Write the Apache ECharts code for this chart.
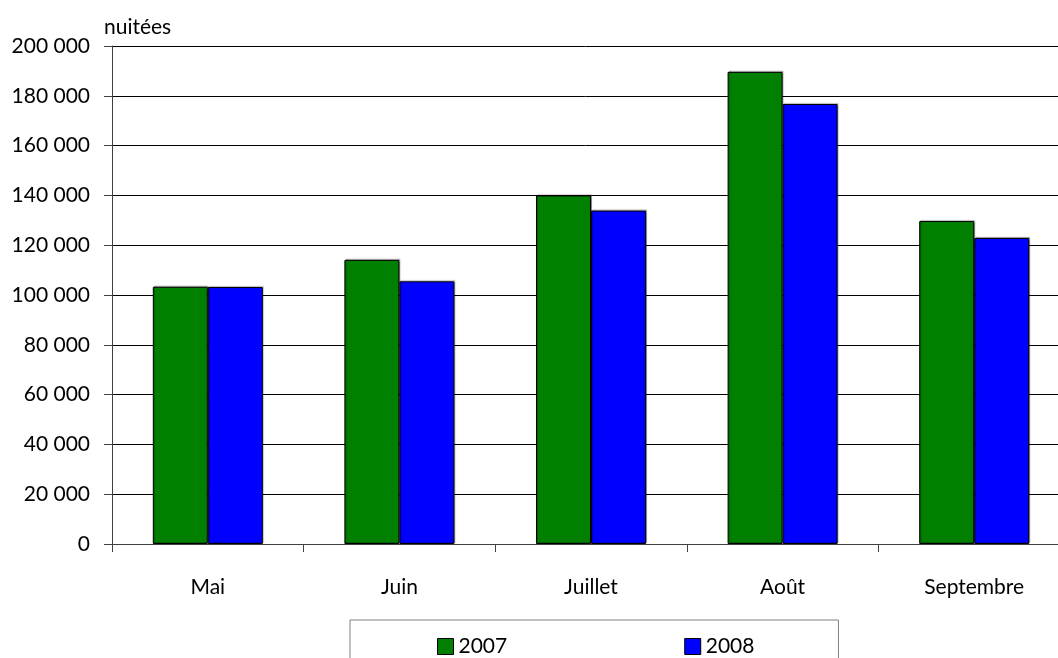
<!DOCTYPE html>
<html>
<head>
<meta charset="utf-8">
<script src="https://cdn.jsdelivr.net/npm/echarts@6/dist/echarts.min.js"></script>
<style>
  html, body { margin: 0; padding: 0; background: #fff; }
  #chart { width: 1058px; height: 658px; }
</style>
</head>
<body>
<div id="chart"></div>
<script>
// nuitées par mois, 2007 et 2008
var mois = ["Mai", "Juin", "Juillet", "Août", "Septembre"];
var annees = ["2007", "2008"];
var nuitees2007 = [103300, 114100, 140000, 189600, 129700];
var nuitees2008 = [103200, 105500, 133900, 176700, 122900];
var couleurs = ["#007f00", "#0000ff"];

(function() {
  var myChart = echarts.init(document.getElementById("chart"));
  var police = "Lato, 'DejaVu Sans', sans-serif";

  function fmt(v) {
    return String(v).replace(/\B(?=(\d{3})+(?!\d))/g, " ");
  }

  function serie(nom, valeurs, couleur) {
    return {
      name: nom,
      type: "bar",
      data: valeurs,
      barWidth: 55,
      barGap: "0%",
      itemStyle: {
        color: couleur,
        borderColor: "#000",
        borderWidth: 1,
        shadowColor: "rgba(0,0,0,0.3)",
        shadowOffsetX: 1,
        shadowOffsetY: -1,
        shadowBlur: 1
      }
    };
  }

  var option = {
    animation: false,
    textStyle: { fontFamily: police },
    title: {
      text: "nuitées",
      left: 99,
      top: 12,
      textStyle: { fontFamily: police, fontSize: 21, fontWeight: "normal", color: "#000" }
    },
    legend: {
      data: annees,
      left: 350,
      top: 620,
      orient: "horizontal",
      itemWidth: 16,
      itemHeight: 16,
      itemGap: 177,
      padding: [16, 84, 30, 87],
      borderColor: "#808080",
      borderWidth: 1,
      icon: "rect",
      itemStyle: { borderColor: "#000", borderWidth: 1 },
      textStyle: { fontFamily: police, fontSize: 21, color: "#000" }
    },
    grid: {
      left: 112,
      width: 958,
      top: 46,
      bottom: 114,
      containLabel: false,
      outerBoundsMode: "none"
    },
    xAxis: {
      type: "category",
      data: mois,
      axisLine: { lineStyle: { color: "#404040", width: 1 } },
      axisTick: { show: true, length: 8, alignWithLabel: false, lineStyle: { color: "#404040" } },
      axisLabel: { margin: 33, fontSize: 21, color: "#000", fontFamily: police }
    },
    yAxis: {
      type: "value",
      min: 0,
      max: 200000,
      interval: 20000,
      axisLine: { show: true, lineStyle: { color: "#404040", width: 1 } },
      axisTick: { show: true, length: 8, lineStyle: { color: "#404040" } },
      axisLabel: { margin: 22, fontSize: 21, color: "#000", fontFamily: police, formatter: fmt },
      splitLine: { show: true, lineStyle: { color: "#000", width: 1 } }
    },
    series: [
      serie(annees[0], nuitees2007, couleurs[0]),
      serie(annees[1], nuitees2008, couleurs[1])
    ]
  };

  myChart.setOption(option);
})();
</script>
</body>
</html>
